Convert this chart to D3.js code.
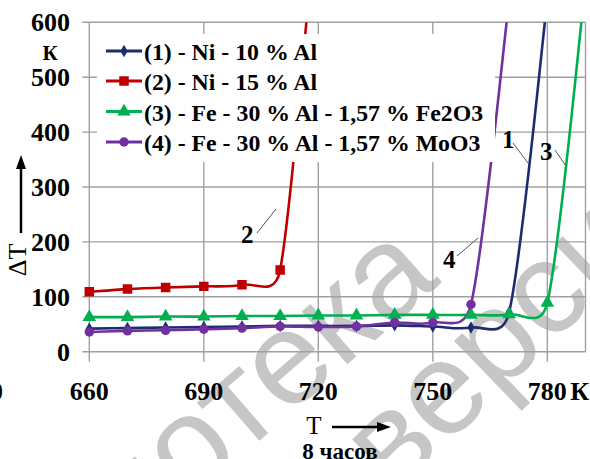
<!DOCTYPE html>
<html><head><meta charset="utf-8">
<script src="https://cdn.jsdelivr.net/npm/d3@7"></script>
<style>
html,body{margin:0;padding:0;background:#fff;}
svg{display:block;}
</style></head>
<body>
<svg id="chart" width="590" height="459" font-family="'Liberation Serif', 'Times New Roman', serif"></svg>
<script>
// ---- data ----
const s1T = [660,670,680,690,700,710,720,730,740,750,760,770,780];
const s1V = [42,43,44,45,46,47,47,47,48,46,44,72,640];
const s2T = [660,670,680,690,700,710,720];
const s2V = [109,114,117,119,122,149,850];
const s3T = [660,670,680,690,700,710,720,730,740,750,760,770,780,790];
const s3V = [63,63,64,64,65,65,66,66,67,67,67,68,89,670];
const s4T = [660,670,680,690,700,710,720,730,740,750,760,770];
const s4V = [36,38,39,41,43,46,45,46,53,53,86,640];
const seriesNames = ["(1) - Ni - 10 % Al","(2) - Ni - 15 % Al","(3) - Fe - 30 % Al - 1,57 % Fe2O3","(4) - Fe - 30 % Al - 1,57 % MoO3"];
const xTicks = [660,690,720,750,780];
const xTickLabels = ["660","690","720","750","780"];
const yTicks = [0,100,200,300,400,500,600];
const yTickLabels = ["0","100","200","300","400","500","600"];
const curveLabels = ["1","2","3","4"];

const colors = ["#1b2d6e","#c00000","#00b050","#7030a0"];
const symbols = [d3.symbolDiamond, d3.symbolSquare, d3.symbolTriangle, d3.symbolCircle];
const symSizes = [45, 90, 80, 70];
const sans = "'Liberation Sans', Arial, 'DejaVu Sans', sans-serif";

const svg = d3.select("#chart");
const x = d3.scaleLinear().domain([660,790]).range([89.3,585.5]);
const y = d3.scaleLinear().domain([0,600]).range([351.7,22.3]);

function bt(sel){ return sel.attr("font-weight","bold").attr("fill","#000"); }

// Excel-like smoothing: Catmull-Rom control points, clamped by segment length
function excelCurve(context){
  let pts = [];
  const k = 0.7;
  function clampV(vx, vy, maxLen){
    const l = Math.hypot(vx, vy);
    if (l > maxLen && l > 0){ const s = maxLen/l; return [vx*s, vy*s]; }
    return [vx, vy];
  }
  return {
    areaStart(){}, areaEnd(){},
    lineStart(){ pts = []; },
    point(px, py){ pts.push([+px, +py]); },
    lineEnd(){
      if (!pts.length) return;
      context.moveTo(pts[0][0], pts[0][1]);
      for (let i = 0; i < pts.length - 1; i++){
        const P0 = pts[i-1] || pts[i], P1 = pts[i], P2 = pts[i+1], P3 = pts[i+2] || pts[i+1];
        const seg = Math.hypot(P2[0]-P1[0], P2[1]-P1[1]);
        const a = clampV((P2[0]-P0[0])/6, (P2[1]-P0[1])/6, k*seg);
        const b = clampV((P3[0]-P1[0])/6, (P3[1]-P1[1])/6, k*seg);
        context.bezierCurveTo(P1[0]+a[0], P1[1]+a[1], P2[0]-b[0], P2[1]-b[1], P2[0], P2[1]);
      }
    }
  };
}

// watermark (behind everything)
const wm = svg.append("g").attr("fill","#c6c6c6").attr("font-family",sans).attr("font-size",132);
wm.append("text").attr("text-anchor","end").attr("transform","translate(442,282) rotate(-41)").text("библиотека");
wm.append("text").attr("text-anchor","start").attr("transform","translate(394,496) rotate(-44)").text("версия");

// grid
const grid = svg.append("g").attr("stroke","#a0a0a0").attr("stroke-width",1.4);
yTicks.forEach(v=>{
  grid.append("line").attr("x1",x(660)-7).attr("x2",x(790)).attr("y1",y(v)).attr("y2",y(v));
});
xTicks.concat([790]).forEach(v=>{
  grid.append("line").attr("x1",x(v)).attr("x2",x(v)).attr("y1",y(600)).attr("y2",y(0)+(v===790?0:10));
});

// clip
svg.append("clipPath").attr("id","plot").append("rect")
  .attr("x",x(660)-8).attr("y",y(600)).attr("width",x(790)-x(660)+16).attr("height",y(0)-y(600)+10);

const seriesData = [[s1T,s1V],[s2T,s2V],[s3T,s3V],[s4T,s4V]].map(([t,v])=>t.map((d,i)=>({t:d,v:v[i]})));
const line = d3.line().x(d=>x(d.t)).y(d=>y(d.v)).curve(excelCurve);
const plotG = svg.append("g").attr("clip-path","url(#plot)");
seriesData.forEach((data,i)=>{
  plotG.append("path").datum(data).attr("d",line).attr("fill","none")
    .attr("stroke",colors[i]).attr("stroke-width",2.6);
});
seriesData.forEach((data,i)=>{
  plotG.selectAll(null).data(data.filter(d=>d.v<=600)).enter().append("path")
    .attr("d",d3.symbol().type(symbols[i]).size(symSizes[i]))
    .attr("transform",d=>`translate(${x(d.t)},${y(d.v)})`)
    .attr("fill",colors[i]);
});

// curve annotations
const ann = [
  {t:curveLabels[0],x:502,y:148,l:[513,143,528,163]},
  {t:curveLabels[2],x:540,y:160,l:[555,150,566,166]},
  {t:curveLabels[1],x:241,y:243,l:[257,233,276,209]},
  {t:curveLabels[3],x:443,y:268,l:[457,256,478,238]}
];
ann.forEach(a=>{
  bt(svg.append("text").attr("x",a.x).attr("y",a.y).attr("font-size",25)).text(a.t);
  svg.append("line").attr("x1",a.l[0]).attr("y1",a.l[1]).attr("x2",a.l[2]).attr("y2",a.l[3])
    .attr("stroke","#555").attr("stroke-width",1);
});

// legend
const lg = svg.append("g");
lg.append("rect").attr("x",97).attr("y",34).attr("width",398).attr("height",128).attr("fill","#fff");
const rowY = [51,81,111.5,142];
seriesNames.forEach((n,i)=>{
  lg.append("line").attr("x1",106).attr("x2",142).attr("y1",rowY[i]).attr("y2",rowY[i])
    .attr("stroke",colors[i]).attr("stroke-width",2.8);
  lg.append("path").attr("d",d3.symbol().type(symbols[i]).size(symSizes[i]))
    .attr("transform",`translate(124,${rowY[i]})`).attr("fill",colors[i]);
  bt(lg.append("text").attr("x",144).attr("y",rowY[i]+9).attr("font-size",23.8)).text(n);
});

// y tick labels
yTicks.forEach((v,i)=>{
  bt(svg.append("text").attr("x",70).attr("y",y(v)+9).attr("text-anchor","end")
    .attr("font-size",26)).text(yTickLabels[i]);
});
bt(svg.append("text").attr("x",50).attr("y",60).attr("text-anchor","middle")
  .attr("font-size",21)).text("К");

// x tick labels
xTicks.forEach((v,i)=>{
  bt(svg.append("text").attr("x",x(v)).attr("y",400).attr("text-anchor","middle")
    .attr("font-size",26)).text(xTickLabels[i]);
});
bt(svg.append("text").attr("x",x(780)+23).attr("y",400).attr("font-size",26)).text("К");
bt(svg.append("text").attr("x",3).attr("y",400).attr("text-anchor","end").attr("font-size",26)).text("0");

// axis titles
svg.append("text").attr("transform","translate(26,260) rotate(-90)").attr("text-anchor","middle")
  .attr("font-size",26).text("ΔT");
svg.append("line").attr("x1",21).attr("x2",21).attr("y1",233).attr("y2",166).attr("stroke","#000").attr("stroke-width",2.5);
svg.append("path").attr("d","M21,155 L16,169 L26,169 Z").attr("fill","#000");

svg.append("text").attr("x",314).attr("y",434).attr("text-anchor","middle").attr("font-size",25).text("T");
svg.append("line").attr("x1",332).attr("x2",378).attr("y1",427).attr("y2",427).attr("stroke","#000").attr("stroke-width",2.5);
svg.append("path").attr("d","M391,427 L377,422 L377,432 Z").attr("fill","#000");
bt(svg.append("text").attr("x",340).attr("y",459).attr("text-anchor","middle").attr("font-size",23)).text("8 часов");
</script>
</body></html>
